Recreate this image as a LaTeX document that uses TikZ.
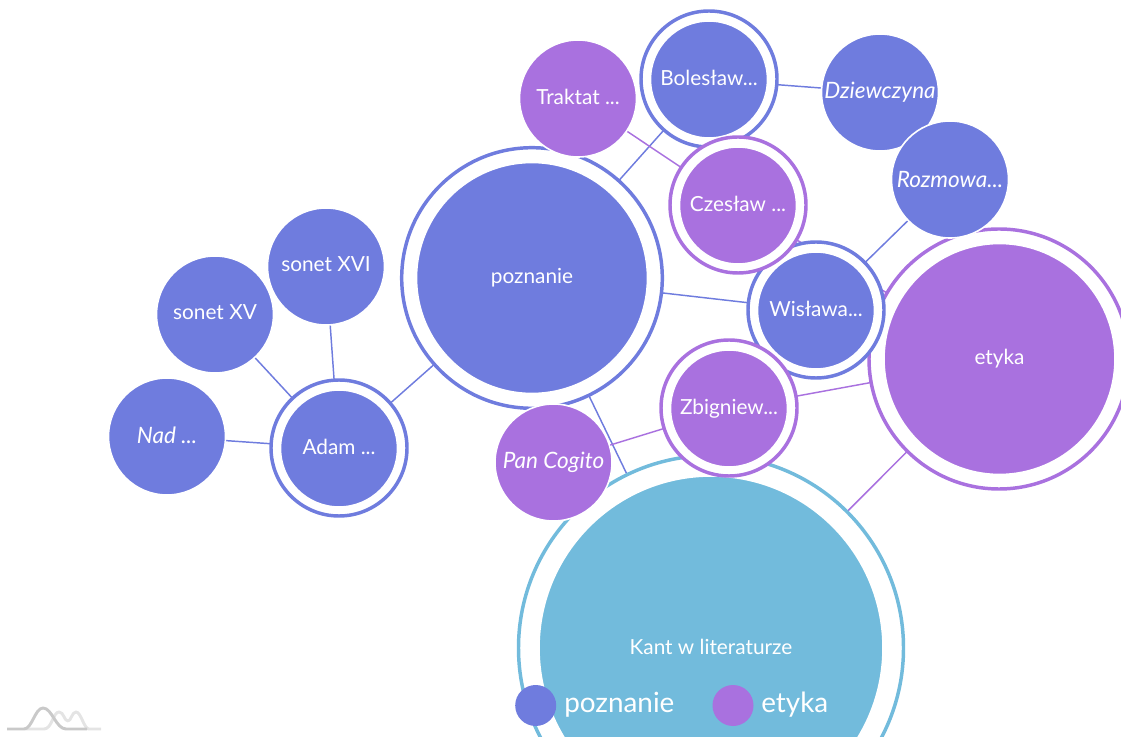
\documentclass[tikz,border=0pt]{standalone}
\usepackage{fontspec}
\setmainfont{Lato}
\definecolor{bluec}{HTML}{6F7CDE}
\definecolor{purplec}{HTML}{A971DF}
\definecolor{kantc}{HTML}{72BBDC}
\definecolor{logodark}{HTML}{C9C9C9}
\definecolor{logolight}{HTML}{E4E4E4}
\newcommand{\itxt}{\fontsize{16.9}{20}\selectfont\itshape}
\pgfdeclarelayer{links}
\pgfsetlayers{links,main}
\tikzset{
  disc/.style n args={2}{circle,inner sep=0pt,outer sep=0pt,minimum size=#1*1.5pt,fill=#2,draw=white,line width=1.2pt,text=white,font=\fontsize{15.6}{18}\selectfont},
  ringc/.style n args={2}{circle,inner sep=0pt,outer sep=0pt,minimum size=#1*1.5pt,fill=white,draw=#2,line width=2.6pt},
  bluelink/.style={draw=bluec,line width=1.1pt},
  purplelink/.style={draw=purplec,line width=1.1pt},
  legendtext/.style={text=white,inner sep=0pt,anchor=west,font=\fontsize{20.9}{24}\selectfont},
  logoline/.style={line width=2.2pt,line cap=butt,line join=round},
  dot/.style={circle,inner sep=0pt,outer sep=0pt,minimum size=30.75pt,fill=#1},
}
\begin{document}
\begin{tikzpicture}[x=0.75pt,y=-0.75pt]
\useasboundingbox (0,0) rectangle (1121,737);
\clip (0,0) rectangle (1121,737);
% Kant
\node[ringc={192.5}{kantc}] (kantR) at (711,648) {};
\node[disc={172}{kantc}] (kant) at (711,648) {\raisebox{1.5pt}{Kant w literaturze}};
% poznanie
\node[ringc={130.3}{bluec}] (pozR) at (532,278) {};
\node[disc={115.5}{bluec}] (poz) at (532,278) {\raisebox{1pt}{poznanie}};
% etyka
\node[ringc={130}{purplec}] (etyR) at (999,359) {};
\node[disc={115.5}{purplec}] (ety) at (999.5,359) {etyka};
% Adam
\node[ringc={68}{bluec}] (adamR) at (339,448) {};
\node[disc={58.5}{bluec}] (adam) at (339,448.5) {\raisebox{3pt}{Adam ...}};
\node[disc={58.5}{bluec}] (nad) at (167,436.5) {\itxt\raisebox{1.5pt}{Nad ...}};
\node[disc={58.5}{bluec}] (s15) at (215,314.5) {\raisebox{3pt}{sonet XV}};
\node[disc={58.5}{bluec}] (s16) at (326,266.5) {\raisebox{3pt}{sonet XVI}};
% Boleslaw
\node[disc={58.5}{purplec}] (trak) at (578,98.5) {\raisebox{1.8pt}{Traktat ...}};
\node[ringc={68}{bluec}] (bolR) at (709,79) {};
\node[disc={58.5}{bluec}] (bol) at (709,79.5) {\raisebox{2.2pt}{Bolesław...}};
\node[disc={58.5}{bluec}] (dzi) at (880,92.5) {\itxt Dziewczyna};
\node[disc={58.5}{bluec}] (roz) at (950,179.5) {\itxt Rozmowa...};
% Wislawa
\node[ringc={68}{bluec}] (wisR) at (816,310) {};
\node[disc={58.5}{bluec}] (wis) at (816,310.5) {\raisebox{1.8pt}{Wisława...}};
% Czeslaw
\node[ringc={68}{purplec}] (czeR) at (738,205) {};
\node[disc={58.5}{purplec}] (cze) at (738,205.5) {\raisebox{3pt}{Czesław ...}};
% Zbigniew
\node[ringc={68}{purplec}] (zbiR) at (729,408) {};
\node[disc={58.5}{purplec}] (zbi) at (729,408.5) {\raisebox{1.3pt}{Zbigniew...}};
\node[disc={58.5}{purplec}] (pan) at (553.5,462.5) {\itxt Pan Cogito};
% links
\begin{pgfonlayer}{links}
\draw[bluelink] (poz.center) -- (kant.center);
\draw[bluelink] (poz.center) -- (adam.center);
\draw[bluelink] (poz.center) -- (bol.center);
\draw[bluelink] (poz.center) -- (wis.center);
\draw[bluelink] (adam.center) -- (nad.center);
\draw[bluelink] (adam.center) -- (s15.center);
\draw[bluelink] (adam.center) -- (s16.center);
\draw[bluelink] (bol.center) -- (dzi.center);
\draw[bluelink] (wis.center) -- (roz.center);
\draw[purplelink] (ety.center) -- (kant.center);
\draw[purplelink] (ety.center) -- (zbi.center);
\draw[purplelink] (ety.center) -- (cze.center);
\draw[purplelink] (zbi.center) -- (pan.center);
\draw[purplelink] (cze.center) -- (trak.center);
\end{pgfonlayer}
% legend
\node[dot=bluec] (leg1) at (535.7,705.5) {};
\node[legendtext] (leg1t) at (564,705) {poznanie};
\node[dot=purplec] (leg2) at (733,705.5) {};
\node[legendtext] (leg2t) at (761,705) {etyka};
% logo
\draw[logoline,logolight] (25,729) -- (44,729) .. controls (52,729) and (53,712) .. (59,712) .. controls (64,712) and (64,721) .. (68,721) .. controls (71,721) and (72,712) .. (76,712) .. controls (81,712) and (84,729) .. (89,729) -- (101,729);
\draw[logoline,logodark] (7,729) -- (24,729) .. controls (32,729) and (35,708) .. (43,708) .. controls (52,708) and (56,729) .. (66,729) -- (87,729);
\end{tikzpicture}
\end{document}
